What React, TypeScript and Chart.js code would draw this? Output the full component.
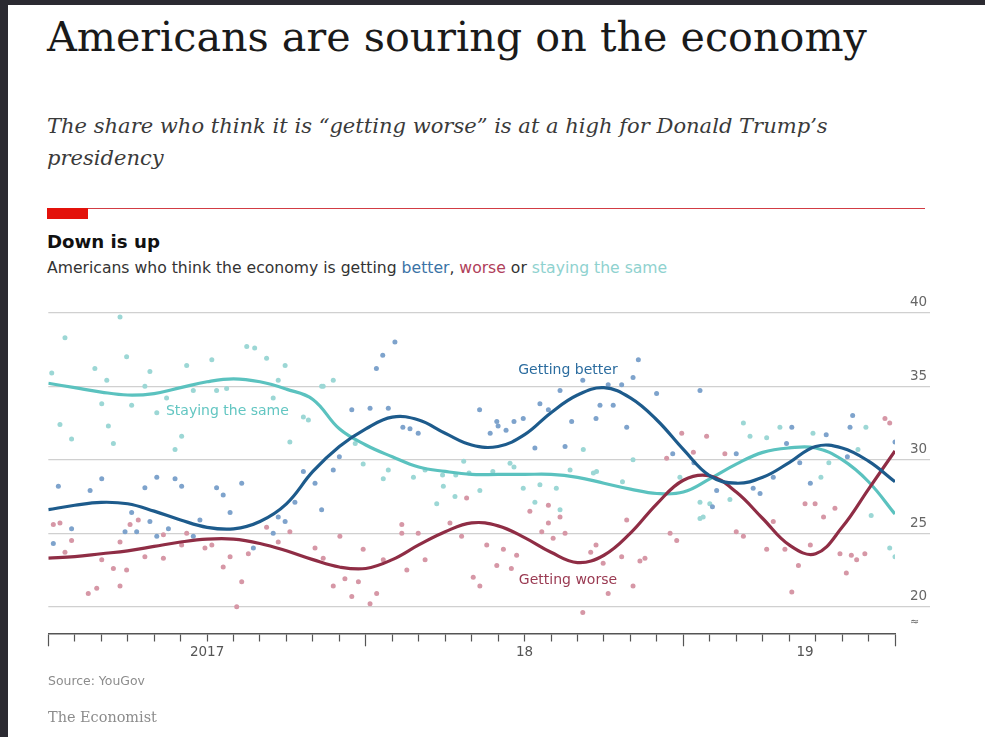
import React, { useEffect, useRef, useMemo } from 'react';
import { Chart, registerables } from 'chart.js';

Chart.register(...registerables);

// ---------- data ----------
const MONTHS = [0, 1, 2, 3, 4, 5, 6, 7, 8, 9, 10, 11, 12, 13, 14, 15, 16, 17, 18, 19, 20, 21, 22, 23, 24, 25, 26, 27, 28, 29, 30, 31, 32];

const LINE_BETTER = [26.6, 26.9, 27.1, 27.0, 26.5, 25.9, 25.4, 25.3, 25.8, 27.0, 29.2, 30.9, 32.1, 32.9, 32.7, 31.8, 31.0, 30.9, 31.7, 33.2, 34.4, 34.9, 34.2, 32.7, 30.7, 28.9, 28.4, 28.8, 29.8, 30.9, 30.8, 29.9, 28.5];
const LINE_WORSE = [23.3, 23.4, 23.6, 23.8, 24.1, 24.4, 24.6, 24.6, 24.3, 23.8, 23.2, 22.7, 22.6, 23.2, 24.2, 25.1, 25.7, 25.5, 24.7, 23.7, 23.0, 23.5, 25.0, 27.0, 28.6, 28.9, 27.8, 26.0, 24.2, 23.6, 25.4, 28.0, 30.6];
const LINE_SAME = [35.2, 34.9, 34.6, 34.4, 34.5, 34.9, 35.3, 35.5, 35.3, 34.8, 34.1, 32.1, 31.0, 30.2, 29.5, 29.2, 29.0, 29.0, 29.0, 29.0, 28.8, 28.4, 28.0, 27.7, 27.8, 28.7, 29.7, 30.5, 30.8, 30.8, 30.0, 28.5, 26.3];

const DOTS_SAME: [number, number][] = [
  [0.13, 35.9], [0.63, 38.3], [2.71, 39.7], [1.76, 36.2], [2.21, 35.4], [2.96, 37.0], [2.02, 33.8], [3.15, 33.7],
  [3.65, 35.0], [3.84, 36.0], [5.23, 36.4], [6.18, 36.8], [7.5, 37.7], [7.8, 37.6], [8.25, 36.9], [8.95, 36.4],
  [8.69, 35.4], [8.5, 34.2], [10.39, 35.0], [10.77, 35.4], [0.44, 32.4], [0.88, 31.4], [2.27, 32.3], [2.46, 31.1],
  [4.1, 33.2], [4.79, 30.7], [5.04, 31.6], [9.13, 31.2], [5.48, 34.7], [6.36, 34.7], [6.74, 34.85], [4.47, 34.2],
  [9.64, 32.9], [9.83, 32.7], [10.33, 35.0], [11.6, 31.1], [15.7, 29.9], [14.9, 28.96], [15.4, 28.96], [15.9, 29.1],
  [14.24, 29.3], [12.66, 28.7], [12.85, 29.3], [11.9, 29.7], [13.8, 28.8], [14.68, 27.0], [14.93, 28.2], [15.37, 27.5],
  [16.31, 27.9], [16.8, 29.2], [17.45, 29.75], [17.6, 29.5], [17.95, 28.05], [18.58, 28.3], [19.2, 28.05], [18.39, 27.1],
  [19.34, 26.6], [20.22, 30.7], [22.1, 30.0], [20.72, 29.2], [19.72, 29.3], [20.6, 29.1], [21.7, 28.5], [23.87, 28.8],
  [24.63, 27.1], [25.0, 27.0], [24.75, 26.1], [24.63, 26.0], [25.76, 27.3], [26.27, 32.5], [26.52, 31.6], [27.15, 31.5],
  [27.65, 32.2], [28.9, 31.8], [29.5, 29.8], [30.9, 32.2], [30.6, 30.7], [29.2, 28.8], [31.1, 26.2], [31.8, 24.0], [32.0, 23.4],
];

const DOTS_BETTER: [number, number][] = [
  [11.47, 33.4], [12.4, 36.2], [12.64, 37.1], [13.1, 38.0], [16.3, 33.4], [12.16, 33.5], [12.85, 33.5], [11.0, 30.2],
  [10.77, 29.3], [9.64, 29.2], [10.08, 28.4], [16.95, 32.6], [16.7, 31.8], [13.4, 32.2], [13.67, 32.1], [13.98, 31.8],
  [17.0, 32.3], [17.3, 32.0], [17.6, 32.6],
  [22.3, 36.8], [22.1, 35.6], [19.34, 34.7], [20.2, 35.4], [21.16, 35.1], [21.67, 35.1], [18.58, 33.8], [18.9, 33.4],
  [20.85, 33.7], [21.35, 33.7], [17.95, 32.8], [19.78, 32.6], [20.7, 32.8], [21.86, 32.2], [22.99, 34.5], [24.63, 34.7],
  [18.39, 30.8], [19.53, 30.9], [26.0, 30.4], [28.1, 32.2], [27.9, 31.1], [29.4, 31.7], [28.4, 29.8], [30.3, 32.2],
  [30.4, 33.0], [32.0, 31.2], [30.2, 30.2], [23.6, 30.4], [24.4, 29.8],
  [0.38, 28.2], [1.58, 27.9], [2.02, 28.7], [3.65, 28.1], [4.1, 28.8], [4.79, 28.7], [5.04, 28.2], [6.36, 28.1],
  [6.61, 27.6], [7.31, 28.4], [6.87, 26.4], [3.15, 26.4], [3.84, 25.8], [3.34, 25.1], [2.9, 25.1], [0.88, 25.3],
  [0.19, 24.3], [4.1, 24.8], [4.54, 25.3], [5.48, 24.8], [5.73, 25.9], [7.75, 24.0], [8.5, 25.0], [8.69, 26.1],
  [8.95, 25.8], [9.32, 27.1], [10.33, 26.6],
  [25.1, 26.8], [25.26, 27.9], [26.64, 28.05], [26.9, 27.7], [27.4, 28.8], [28.8, 28.4],
];

const DOTS_WORSE: [number, number][] = [
  [23.94, 31.8], [24.88, 31.6], [24.38, 30.5], [23.37, 30.1], [25.57, 30.4], [31.62, 32.8], [31.8, 32.5],
  [3.4, 25.9], [3.09, 25.6], [2.71, 24.4], [0.88, 24.5], [0.19, 25.6], [0.44, 25.7], [0.63, 23.7], [2.02, 23.2],
  [2.46, 22.6], [2.96, 22.5], [1.51, 20.9], [1.83, 21.25], [2.71, 21.4], [3.65, 23.4], [4.35, 23.3], [4.35, 24.9],
  [5.23, 25.0], [5.04, 24.2], [5.92, 24.0], [6.18, 24.2], [6.61, 22.7], [6.87, 23.4], [7.31, 21.7], [7.12, 20.0],
  [7.56, 23.6], [8.25, 25.4], [9.13, 25.1], [8.69, 24.4], [10.08, 24.0], [10.39, 23.3], [11.02, 24.8], [10.77, 21.4],
  [11.21, 21.9], [11.47, 20.7], [11.72, 21.7], [12.16, 20.2], [12.41, 20.9], [11.9, 23.9], [12.66, 23.2], [13.36, 25.6],
  [13.36, 25.0], [13.55, 22.5], [13.98, 25.0], [14.24, 23.2], [15.18, 25.7], [15.62, 24.8], [15.81, 27.4], [16.06, 22.0],
  [16.31, 21.4], [16.57, 24.2], [16.95, 22.8],
  [18.9, 26.9], [18.2, 26.5], [19.34, 26.1], [18.9, 25.7], [18.65, 25.1], [19.08, 24.65], [19.53, 25.0], [17.2, 23.9],
  [17.7, 23.5], [17.5, 22.6], [20.2, 19.6], [20.5, 23.7], [20.7, 24.2], [20.97, 22.95], [21.16, 20.9], [21.67, 23.4],
  [22.1, 21.4], [22.36, 23.1], [22.55, 23.3], [21.86, 25.9], [23.5, 25.0], [23.75, 24.5], [26.0, 25.1], [26.27, 24.8],
  [27.4, 25.8], [27.15, 23.9], [27.84, 23.9], [28.1, 21.0], [28.35, 22.8], [28.6, 27.0], [28.98, 27.0], [29.3, 26.1],
  [29.73, 26.7], [28.8, 24.2], [29.92, 23.6], [30.35, 23.5], [30.55, 23.2], [30.86, 23.6], [30.16, 22.3],
];

const Y_TICKS = [20, 25, 30, 35, 40];
const Y_BREAK = 18.3;
const X_MAJOR = [0, 12, 24, 32];
const YEAR_TICKS = [6, 18, 28.6];
const YEAR_LABELS = ['2017', '18', '19'];

const LINE_LABEL_TEXT = ['Getting better', 'Staying the same', 'Getting worse'];
const LINE_LABEL_AT: [number, number][] = [[19.64, 36.1], [6.77, 33.3], [19.64, 21.8]];

// ---------- styles ----------
const SERIF = '"DejaVu Serif", "Liberation Serif", serif';
const SANS = '"DejaVu Sans", "Liberation Sans", sans-serif';
const C_BETTER = '#1d5b8c';
const C_WORSE = '#8f2d45';
const C_SAME = '#5bc2bf';
const C_BETTER_DOT = '#7ea3cc';
const C_WORSE_DOT = '#d697a6';
const C_SAME_DOT = '#9cd7d5';
const LABEL_COLORS = ['#2b6c9f', '#63c6c2', '#9a3a52'];

function fit(text: string, font: (s: number) => string, target: number) {
  const c = document.createElement('canvas').getContext('2d')!;
  c.font = font(100);
  return (100 * target) / c.measureText(text).width;
}

const lineLabels = {
  id: 'lineLabels',
  afterDatasetsDraw(chart: any) {
    const { ctx, scales } = chart;
    ctx.save();
    ctx.font = `14px ${SANS}`;
    ctx.textAlign = 'center';
    ctx.textBaseline = 'middle';
    LINE_LABEL_TEXT.forEach((t, i) => {
      ctx.fillStyle = LABEL_COLORS[i];
      ctx.fillText(t, scales.x.getPixelForValue(LINE_LABEL_AT[i][0]), scales.y.getPixelForValue(LINE_LABEL_AT[i][1]));
    });
    ctx.restore();
  },
};

const Txt = ({ x, base, size, family, style, children, color, weight }: any) => (
  <div
    style={{
      position: 'absolute',
      left: x,
      top: base - 0.846 * size,
      fontSize: size,
      lineHeight: `${size}px`,
      fontFamily: family,
      fontStyle: style || 'normal',
      fontWeight: weight || 'normal',
      color,
      whiteSpace: 'nowrap',
    }}
  >
    {children}
  </div>
);

export default function App() {
  const ref = useRef<HTMLCanvasElement>(null);

  const sizes = useMemo(() => {
    const title = fit('Americans are souring on the economy', (s) => `${s}px ${SERIF}`, 820);
    const sub = fit('The share who think it is “getting worse” is at a high for Donald Trump’s', (s) => `italic ${s}px ${SERIF}`, 781);
    const down = fit('Down is up', (s) => `bold ${s}px ${SANS}`, 113);
    const chartSub = fit('Americans who think the economy is getting better, worse or staying the same', (s) => `${s}px ${SANS}`, 621);
    const source = fit('Source: YouGov', (s) => `${s}px ${SANS}`, 97);
    const econ = fit('The Economist', (s) => `${s}px ${SERIF}`, 109);
    return { title, sub, down, chartSub, source, econ };
  }, []);

  useEffect(() => {
    const xy = (xs: number[], ys: number[]) => xs.map((x, i) => ({ x, y: ys[i] }));
    const pts = (a: [number, number][]) => a.map(([x, y]) => ({ x, y }));
    const xTicks = [...MONTHS, ...YEAR_TICKS.filter((v) => !MONTHS.includes(v))].sort((a, b) => a - b);
    const lineDs = (data: any, color: string, order: number) => ({
      type: 'line',
      data,
      borderColor: color,
      borderWidth: 3.2,
      pointRadius: 0,
      tension: 0.4,
      fill: false,
      order,
    });
    const dotDs = (data: any, color: string, order: number) => ({
      type: 'scatter',
      data,
      backgroundColor: color,
      borderWidth: 0,
      pointRadius: 2.5,
      order,
    });
    const chart = new Chart(ref.current!, {
      type: 'line',
      data: {
        datasets: [
          lineDs(xy(MONTHS, LINE_BETTER), C_BETTER, 0),
          lineDs(xy(MONTHS, LINE_WORSE), C_WORSE, 1),
          lineDs(xy(MONTHS, LINE_SAME), C_SAME, 2),
          dotDs(pts(DOTS_WORSE), C_WORSE_DOT, 3),
          dotDs(pts(DOTS_BETTER), C_BETTER_DOT, 4),
          dotDs(pts(DOTS_SAME), C_SAME_DOT, 5),
        ] as any,
      },
      options: {
        responsive: false,
        animation: false,
        events: [],
        layout: { padding: { left: 48.3, right: 55, top: 312.7, bottom: 63.7 } },
        plugins: { legend: { display: false }, tooltip: { enabled: false } },
        scales: {
          x: {
            type: 'linear',
            min: 0,
            max: 32,
            afterBuildTicks: (s: any) => {
              s.ticks = xTicks.map((v) => ({ value: v }));
            },
            afterFit: (s: any) => {
              s.height = 40;
            },
            ticks: {
              autoSkip: false,
              maxRotation: 0,
              minRotation: 0,
              padding: -2,
              color: '#555',
              font: { family: SANS, size: 13.5 },
              callback: (v: any) => {
                const i = YEAR_TICKS.indexOf(v);
                return i >= 0 ? YEAR_LABELS[i] : '';
              },
            },
            grid: {
              drawOnChartArea: false,
              drawTicks: true,
              tickLength: 13,
              tickWidth: 1.2,
              tickColor: (c: any) => (c.tick && MONTHS.includes(c.tick.value) ? '#555' : 'rgba(0,0,0,0)'),
              tickBorderDash: (c: any) => (c.tick && X_MAJOR.includes(c.tick.value) ? [] : [7, 40]),
            },
            border: { display: true, color: '#555', width: 1.5 },
          },
          y: {
            type: 'linear',
            position: 'right',
            min: 18.19,
            max: 40,
            afterBuildTicks: (s: any) => {
              s.ticks = [{ value: Y_BREAK }, ...Y_TICKS.map((v) => ({ value: v }))];
            },
            afterFit: (s: any) => {
              s.width = 35;
            },
            ticks: {
              padding: -20,
              labelOffset: -10,
              color: '#666',
              font: (c: any) => ({ family: SANS, size: c.tick && c.tick.value === Y_BREAK ? 11 : 13.5 }),
              callback: (v: any) => (v === Y_BREAK ? '≈' : String(v)),
            },
            grid: {
              color: (c: any) => (c.tick && c.tick.value === Y_BREAK ? 'rgba(0,0,0,0)' : '#d0d0d0'),
              lineWidth: 1.3,
              drawTicks: true,
              tickLength: 35,
            },
            border: { display: false },
          },
        },
      } as any,
      plugins: [lineLabels],
    });
    return () => chart.destroy();
  }, []);

  return (
    <div style={{ position: 'absolute', left: 0, top: 0, width: 985, height: 737, background: '#2b2a31', overflow: 'hidden' }}>
      <div style={{ position: 'absolute', left: 8, top: 5, right: 0, bottom: 0, background: '#ffffff' }} />
      <Txt x={47} base={52} size={sizes.title} family={SERIF} color="#1a1a1a">
        Americans are souring on the economy
      </Txt>
      <Txt x={47} base={133} size={sizes.sub} family={SERIF} style="italic" color="#3a3a3a">
        The share who think it is “getting worse” is at a high for Donald Trump’s
      </Txt>
      <Txt x={47} base={165} size={sizes.sub} family={SERIF} style="italic" color="#3a3a3a">
        presidency
      </Txt>
      <div style={{ position: 'absolute', left: 47, top: 207.5, width: 878, height: 1, background: '#d23c44' }} />
      <div style={{ position: 'absolute', left: 47, top: 208, width: 41, height: 11, background: '#e3120b' }} />
      <Txt x={47} base={248} size={sizes.down} family={SANS} weight="bold" color="#111">
        Down is up
      </Txt>
      <Txt x={47} base={273} size={sizes.chartSub} family={SANS} color="#333">
        Americans who think the economy is getting <span style={{ color: '#3b73a6' }}>better</span>,{' '}
        <span style={{ color: '#b0405a' }}>worse</span> or <span style={{ color: '#8fd2cf' }}>staying the same</span>
      </Txt>
      <canvas ref={ref} width={985} height={737} style={{ position: 'absolute', left: 0, top: 0 }} />
      <Txt x={48} base={686} size={sizes.source} family={SANS} color="#8c8c8c">
        Source: YouGov
      </Txt>
      <Txt x={48} base={722} size={sizes.econ} family={SERIF} color="#8c8c8c">
        The Economist
      </Txt>
    </div>
  );
}
